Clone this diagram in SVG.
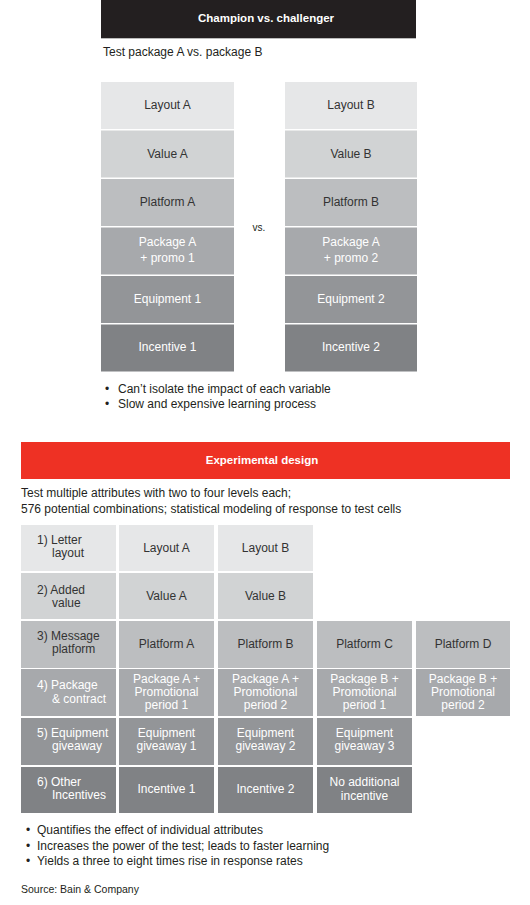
<svg xmlns="http://www.w3.org/2000/svg" width="530" height="905" viewBox="0 0 530 905">
<style>
text{font-family:"Liberation Sans",Arial,sans-serif;font-size:12px;fill:#231f20}
.c{text-anchor:middle}
.w{fill:#ffffff}
.d{fill:#333333}
.hd{font-weight:bold;font-size:11.5px;fill:#ffffff;text-anchor:middle}
.g1{fill:#e6e7e8}.g2{fill:#d1d3d4}.g3{fill:#bcbec0}.g4{fill:#a7a9ac}.g5{fill:#939598}.g6{fill:#808285}
.src{font-size:10.5px}
.vs{font-size:10px}
</style>
<rect width="530" height="905" fill="#ffffff"/>

<g id="champion-header">
<rect x="101" y="0" width="315" height="38" fill="#231f20"/>
<line x1="101" y1="38.5" x2="416" y2="38.5" stroke="#bbbbbb" stroke-width="1"/>
<text class="hd" x="266" y="22">Champion vs. challenger</text>
</g>
<text x="103" y="56">Test package A vs. package B</text>

<g id="stack-a">
<g id="a-layout"><rect class="g1" x="101" y="82" width="133" height="47"/><text class="c d" x="167.5" y="109">Layout A</text></g>
<g id="a-value"><rect class="g2" x="101" y="130.5" width="133" height="47"/><text class="c d" x="167.5" y="158">Value A</text></g>
<g id="a-platform"><rect class="g3" x="101" y="179" width="133" height="47"/><text class="c d" x="167.5" y="206">Platform A</text></g>
<g id="a-package"><rect class="g4" x="101" y="227.5" width="133" height="47"/><text class="c w" x="167.5" y="246">Package A</text><text class="c w" x="167.5" y="262">+ promo 1</text></g>
<g id="a-equipment"><rect class="g5" x="101" y="276" width="133" height="47"/><text class="c w" x="167.5" y="303">Equipment 1</text></g>
<g id="a-incentive"><rect class="g6" x="101" y="324.5" width="133" height="47"/><text class="c w" x="167.5" y="351">Incentive 1</text></g>
</g>

<text class="c vs" x="259" y="231">vs.</text>

<g id="stack-b">
<g id="b-layout"><rect class="g1" x="285" y="82" width="132" height="47"/><text class="c d" x="351" y="109">Layout B</text></g>
<g id="b-value"><rect class="g2" x="285" y="130.5" width="132" height="47"/><text class="c d" x="351" y="158">Value B</text></g>
<g id="b-platform"><rect class="g3" x="285" y="179" width="132" height="47"/><text class="c d" x="351" y="206">Platform B</text></g>
<g id="b-package"><rect class="g4" x="285" y="227.5" width="132" height="47"/><text class="c w" x="351" y="246">Package A</text><text class="c w" x="351" y="262">+ promo 2</text></g>
<g id="b-equipment"><rect class="g5" x="285" y="276" width="132" height="47"/><text class="c w" x="351" y="303">Equipment 2</text></g>
<g id="b-incentive"><rect class="g6" x="285" y="324.5" width="132" height="47"/><text class="c w" x="351" y="351">Incentive 2</text></g>
</g>

<g id="champion-notes">
<text x="105" y="393">•</text><text x="118" y="393">Can’t isolate the impact of each variable</text>
<text x="105" y="408">•</text><text x="118" y="408">Slow and expensive learning process</text>
</g>

<g id="experimental-header">
<rect x="21" y="442" width="489" height="37" fill="#ee3124"/>
<text class="hd" x="262" y="464">Experimental design</text>
</g>
<text x="21" y="497">Test multiple attributes with two to four levels each;</text>
<text x="21" y="513">576 potential combinations; statistical modeling of response to test cells</text>

<g id="table">
<g id="r1-label"><rect class="g1" x="21" y="525" width="95" height="46"/><text class="d" x="37" y="544">1) Letter</text><text class="d" x="52" y="557">layout</text></g>
<g id="r1-c1"><rect class="g1" x="119" y="525" width="95" height="46"/><text class="c d" x="166.5" y="552">Layout A</text></g>
<g id="r1-c2"><rect class="g1" x="218" y="525" width="95" height="46"/><text class="c d" x="265.5" y="552">Layout B</text></g>

<g id="r2-label"><rect class="g2" x="21" y="573" width="95" height="46"/><text class="d" x="37" y="594">2) Added</text><text class="d" x="52" y="607">value</text></g>
<g id="r2-c1"><rect class="g2" x="119" y="573" width="95" height="46"/><text class="c d" x="166.5" y="600">Value A</text></g>
<g id="r2-c2"><rect class="g2" x="218" y="573" width="95" height="46"/><text class="c d" x="265.5" y="600">Value B</text></g>

<g id="r3-label"><rect class="g3" x="21" y="621" width="95" height="47"/><text class="d" x="37" y="640">3) Message</text><text class="d" x="52" y="653">platform</text></g>
<g id="r3-c1"><rect class="g3" x="119" y="621" width="95" height="47"/><text class="c d" x="166.5" y="648">Platform A</text></g>
<g id="r3-c2"><rect class="g3" x="218" y="621" width="95" height="47"/><text class="c d" x="265.5" y="648">Platform B</text></g>
<g id="r3-c3"><rect class="g3" x="317" y="621" width="95" height="47"/><text class="c d" x="364.5" y="648">Platform C</text></g>
<g id="r3-c4"><rect class="g3" x="416" y="621" width="94" height="47"/><text class="c d" x="463" y="648">Platform D</text></g>

<g id="r4-label"><rect class="g4" x="21" y="669" width="95" height="47"/><text class="w" x="37" y="689">4) Package</text><text class="w" x="52" y="703">&amp; contract</text></g>
<g id="r4-c1"><rect class="g4" x="119" y="669" width="95" height="47"/><text class="c w" x="166.5" y="683">Package A +</text><text class="c w" x="166.5" y="696">Promotional</text><text class="c w" x="166.5" y="709">period 1</text></g>
<g id="r4-c2"><rect class="g4" x="218" y="669" width="95" height="47"/><text class="c w" x="265.5" y="683">Package A +</text><text class="c w" x="265.5" y="696">Promotional</text><text class="c w" x="265.5" y="709">period 2</text></g>
<g id="r4-c3"><rect class="g4" x="317" y="669" width="95" height="47"/><text class="c w" x="364.5" y="683">Package B +</text><text class="c w" x="364.5" y="696">Promotional</text><text class="c w" x="364.5" y="709">period 1</text></g>
<g id="r4-c4"><rect class="g4" x="416" y="669" width="94" height="47"/><text class="c w" x="463" y="683">Package B +</text><text class="c w" x="463" y="696">Promotional</text><text class="c w" x="463" y="709">period 2</text></g>

<g id="r5-label"><rect class="g5" x="21" y="718" width="95" height="47"/><text class="w" x="37" y="737">5) Equipment</text><text class="w" x="52" y="750">giveaway</text></g>
<g id="r5-c1"><rect class="g5" x="119" y="718" width="95" height="47"/><text class="c w" x="166.5" y="737">Equipment</text><text class="c w" x="166.5" y="750">giveaway 1</text></g>
<g id="r5-c2"><rect class="g5" x="218" y="718" width="95" height="47"/><text class="c w" x="265.5" y="737">Equipment</text><text class="c w" x="265.5" y="750">giveaway 2</text></g>
<g id="r5-c3"><rect class="g5" x="317" y="718" width="95" height="47"/><text class="c w" x="364.5" y="737">Equipment</text><text class="c w" x="364.5" y="750">giveaway 3</text></g>

<g id="r6-label"><rect class="g6" x="21" y="767" width="95" height="46"/><text class="w" x="37" y="786">6) Other</text><text class="w" x="52" y="799">Incentives</text></g>
<g id="r6-c1"><rect class="g6" x="119" y="767" width="95" height="46"/><text class="c w" x="166.5" y="793">Incentive 1</text></g>
<g id="r6-c2"><rect class="g6" x="218" y="767" width="95" height="46"/><text class="c w" x="265.5" y="793">Incentive 2</text></g>
<g id="r6-c3"><rect class="g6" x="317" y="767" width="95" height="46"/><text class="c w" x="364.5" y="786">No additional</text><text class="c w" x="364.5" y="800">incentive</text></g>
</g>

<g id="connectors"></g>

<g id="experimental-notes">
<text x="26" y="834">•</text><text x="37" y="834">Quantifies the effect of individual attributes</text>
<text x="26" y="850">•</text><text x="37" y="850">Increases the power of the test; leads to faster learning</text>
<text x="26" y="865">•</text><text x="37" y="865">Yields a three to eight times rise in response rates</text>
</g>
<text class="src" x="21" y="893">Source: Bain &amp; Company</text>
</svg>
